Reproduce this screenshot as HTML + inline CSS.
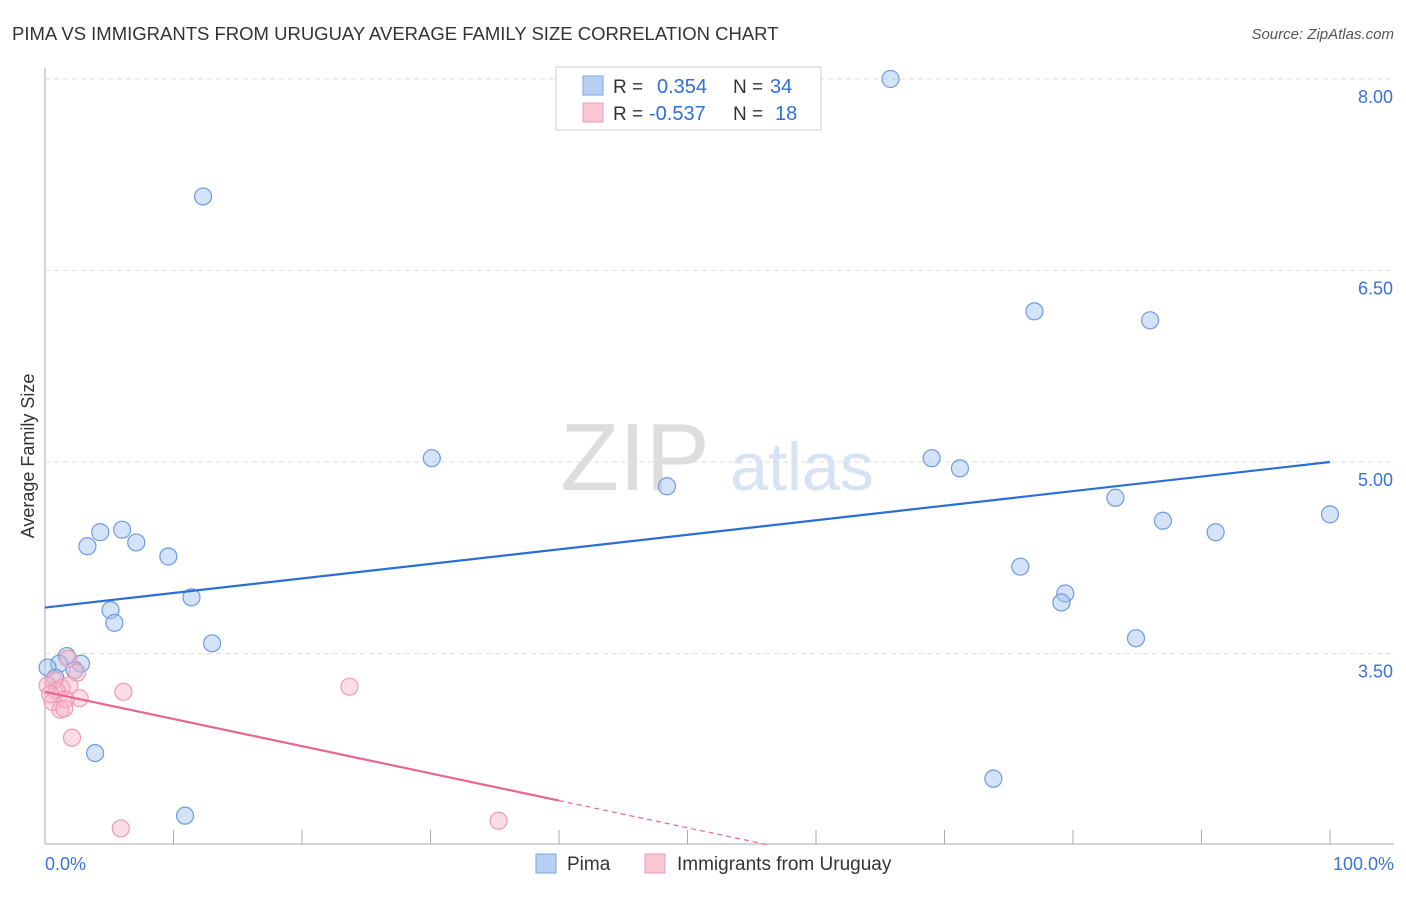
<!DOCTYPE html>
<html><head><meta charset="utf-8"><style>
body{margin:0;background:#fff;font-family:"Liberation Sans",sans-serif}
svg text{font-family:"Liberation Sans",sans-serif}
</style></head><body>
<svg id="c" width="1406" height="892" xmlns="http://www.w3.org/2000/svg">
<text x="12" y="40" font-size="18.5" fill="#333">PIMA VS IMMIGRANTS FROM URUGUAY AVERAGE FAMILY SIZE CORRELATION CHART</text>
<text x="1394" y="39" font-size="15" fill="#555" text-anchor="end" font-style="italic">Source: ZipAtlas.com</text>
<text x="635" y="490" font-size="96" fill="#ddd" font-family="Liberation Serif" text-anchor="middle">ZIP</text>
<text x="802" y="490" font-size="68" fill="#d6e3f5" text-anchor="middle">atlas</text>
<text transform="translate(34,456) rotate(-90)" font-size="18" fill="#333" text-anchor="middle">Average Family Size</text>
<g id="grid"></g><g id="marks"></g>
<g>
<rect x="556" y="67" width="265" height="63" fill="#fff" stroke="#ccc"/>
<rect x="583" y="76" width="20" height="19" fill="#b8d0f4" stroke="#7aa4e0"/>
<rect x="583" y="103" width="20" height="19" fill="#f9c6d4" stroke="#ef9ab4"/>
<text x="613" y="93" font-size="19" fill="#333">R =</text>
<text x="657" y="93" font-size="20" fill="#2f6fd6">0.354</text>
<text x="733" y="93" font-size="19" fill="#333">N =</text>
<text x="770" y="93" font-size="20" fill="#2f6fd6">34</text>
<text x="613" y="120" font-size="19" fill="#333">R =</text>
<text x="649" y="120" font-size="20" fill="#2f6fd6">-0.537</text>
<text x="733" y="120" font-size="19" fill="#333">N =</text>
<text x="775" y="120" font-size="20" fill="#2f6fd6">18</text>
</g>
<g>
<rect x="536" y="854" width="20" height="19" fill="#b8d0f4" stroke="#7aa4e0"/>
<text x="567" y="870" font-size="19" fill="#333">Pima</text>
<rect x="645" y="854" width="20" height="19" fill="#f9c6d4" stroke="#ef9ab4"/>
<text x="677" y="870" font-size="19" fill="#333">Immigrants from Uruguay</text>
</g>
<text x="45" y="870" font-size="18" fill="#3b73d6">0.0%</text>
<text x="1394" y="870" font-size="18" fill="#3b73d6" text-anchor="end">100.0%</text>
</svg>
<script>
const yTicks=[3.5,5.0,6.5,8.0];
const yTickLabels=["3.50","5.00","6.50","8.00"];
const pimaX=[65.8,12.3,77.0,86.0,30.1,69.0,71.2,48.4,83.3,87.0,91.1,100,4.3,6.0,3.3,7.1,9.6,75.9,11.4,79.4,79.1,5.1,5.4,13.0,84.9,1.7,2.8,1.1,0.2,0.8,2.3,3.9,73.8,10.9];
const pimaY=[8.00,7.08,6.18,6.11,5.03,5.03,4.95,4.81,4.72,4.54,4.45,4.59,4.45,4.47,4.34,4.37,4.26,4.18,3.94,3.97,3.90,3.84,3.74,3.58,3.62,3.48,3.42,3.42,3.39,3.31,3.37,2.72,2.52,2.23];
const uruX=[1.8,2.5,0.7,1.3,0.2,1.9,0.9,2.7,1.6,0.6,1.2,1.5,6.1,23.7,2.1,5.9,35.3,0.4];
const uruY=[3.46,3.35,3.29,3.23,3.25,3.25,3.21,3.15,3.14,3.12,3.06,3.07,3.20,3.24,2.84,2.13,2.19,3.18];
const pimaTrend=[3.86,5.00];
const uruTrend=[3.20,-0.0213];
const xs=v=>45+v*12.85, ys=v=>79+(8-v)*127.67;
const NS="http://www.w3.org/2000/svg";
function mk(t,a,p){const e=document.createElementNS(NS,t);for(const k in a)e.setAttribute(k,a[k]);p.appendChild(e);return e;}
const g=document.getElementById('grid'),m=document.getElementById('marks');
let ax=mk('line',{x1:45,y1:68,x2:45,y2:844,stroke:'#aaa'},g);


let bx=mk('line',{x1:45,y1:844,x2:1394,y2:844,stroke:'#aaa'},g);


for(let i=0;i<=10;i++){let t=mk('line',{x1:xs(i*10),y1:830,x2:xs(i*10),y2:844,stroke:'#aaa'},g);

}
yTicks.forEach((v,i)=>{let l=mk('line',{x1:45,y1:ys(v),x2:1394,y2:ys(v),stroke:'#ddd','stroke-dasharray':'5,4'},g);


let t=mk('text',{x:1393,y:ys(v)+24,'font-size':18,fill:'#3b73d6','text-anchor':'end'},g);t.textContent=yTickLabels[i];

});
pimaX.forEach((x,i)=>{let c=mk('circle',{cx:xs(x),cy:ys(pimaY[i]),r:8.5,fill:'rgba(160,192,238,0.45)',stroke:'#6d9be0','stroke-width':1.2},m);

});
uruX.forEach((x,i)=>{let c=mk('circle',{cx:xs(x),cy:ys(uruY[i]),r:8.5,fill:'rgba(246,180,200,0.45)',stroke:'#ee9ab3','stroke-width':1.2},m);

});
let pl=mk('line',{x1:xs(0),y1:ys(pimaTrend[0]),x2:xs(100),y2:ys(pimaTrend[1]),stroke:'#2a6fd6','stroke-width':2.2},m);


const u=x=>uruTrend[0]+uruTrend[1]*x, xe=(2.0-uruTrend[0])/uruTrend[1];
let ul=mk('line',{x1:xs(0),y1:ys(u(0)),x2:xs(40),y2:ys(u(40)),stroke:'#e8668f','stroke-width':2.2},m);


let ud=mk('line',{x1:xs(40),y1:ys(u(40)),x2:xs(xe),y2:ys(u(xe)),stroke:'#e8668f','stroke-width':1.2,'stroke-dasharray':'5,4'},m);


</script>
</body></html>
